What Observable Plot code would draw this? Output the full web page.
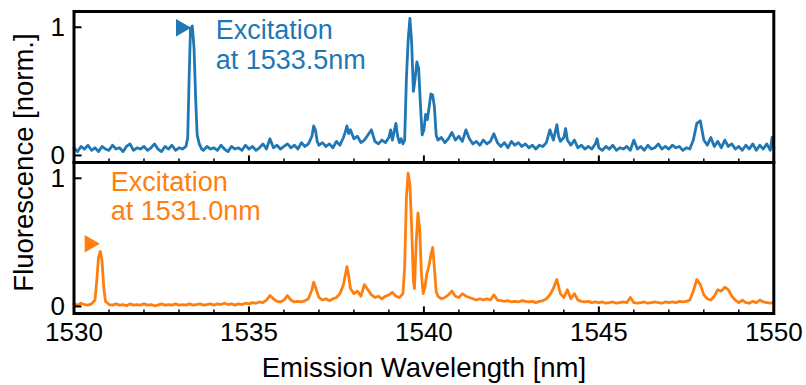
<!DOCTYPE html>
<html><head><meta charset="utf-8">
<script src="https://cdn.jsdelivr.net/npm/d3@7"></script>
<script src="https://cdn.jsdelivr.net/npm/@observablehq/plot@0.6"></script>
<style>
body{margin:0;background:#fff}
g[aria-label="x-axis label"] text, g[aria-label="y-axis label"] text {font-size: 27.5px}
</style>
</head><body><div id="chart"></div>
<script>
const panels = ["top", "bottom"];
const xTicks = [1530, 1535, 1540, 1545, 1550];
const xMinorTicks = [1531, 1532, 1533, 1534, 1536, 1537, 1538, 1539, 1541, 1542, 1543, 1544, 1546, 1547, 1548, 1549];
const yTicks = [0, 1];
const blueColor = "#1f77b4";
const orangeColor = "#ff7f0e";

// Excitation at 1533.5 nm (top, blue): [wavelength nm, normalized fluorescence]
const blueSpectrum = [
[1530.0,.06],[1530.1,.03],[1530.2,.07],[1530.3,.05],[1530.4,.08],[1530.5,.04],[1530.6,.06],[1530.7,.03],[1530.8,.07],[1530.9,.05],
[1531.0,.04],[1531.1,.08],[1531.2,.05],[1531.3,.06],[1531.4,.03],[1531.5,.07],[1531.6,.09],[1531.7,.04],[1531.8,.06],[1531.9,.05],
[1532.0,.07],[1532.1,.04],[1532.2,.06],[1532.3,.09],[1532.4,.05],[1532.5,.03],[1532.6,.07],[1532.7,.05],[1532.8,.08],[1532.9,.04],
[1533.0,.06],[1533.1,.05],[1533.2,.07],[1533.25,.14],[1533.29,.6],[1533.33,.99],[1533.38,1.01],[1533.43,.84],[1533.48,.42],[1533.52,.16],[1533.58,.09],[1533.65,.05],
[1533.7,.04],[1533.8,.07],[1533.9,.05],
[1534.0,.06],[1534.1,.04],[1534.2,.08],[1534.3,.05],[1534.4,.03],[1534.5,.07],[1534.6,.05],[1534.7,.06],[1534.8,.04],[1534.9,.08],
[1535.0,.05],[1535.1,.07],[1535.2,.04],[1535.3,.06],[1535.4,.09],[1535.5,.05],[1535.6,.13],[1535.7,.06],[1535.8,.08],[1535.9,.05],
[1536.0,.07],[1536.1,.09],[1536.2,.06],[1536.3,.08],[1536.4,.05],[1536.5,.1],[1536.6,.07],[1536.7,.09],[1536.8,.15],[1536.85,.23],[1536.9,.2],[1536.95,.11],
[1537.0,.08],[1537.1,.1],[1537.2,.07],[1537.3,.09],[1537.4,.06],[1537.5,.11],[1537.6,.08],[1537.7,.14],[1537.75,.18],[1537.8,.23],[1537.85,.17],[1537.9,.2],
[1538.0,.13],[1538.1,.15],[1538.2,.1],[1538.3,.12],[1538.4,.16],[1538.5,.2],[1538.6,.11],[1538.7,.09],[1538.8,.12],[1538.9,.1],
[1539.0,.14],[1539.05,.2],[1539.1,.12],[1539.2,.25],[1539.25,.15],[1539.3,.1],[1539.35,.13],[1539.4,.09],[1539.45,.12],[1539.5,.6],[1539.55,.9],[1539.6,1.07],[1539.65,.88],[1539.7,.5],[1539.75,.6],[1539.8,.73],[1539.85,.68],[1539.9,.4],[1539.95,.16],
[1540.0,.2],[1540.05,.32],[1540.1,.28],[1540.15,.38],[1540.2,.48],[1540.25,.47],[1540.3,.38],[1540.35,.16],[1540.4,.12],[1540.5,.14],[1540.6,.1],[1540.7,.13],[1540.8,.18],[1540.9,.12],
[1541.0,.15],[1541.1,.11],[1541.2,.2],[1541.3,.13],[1541.4,.09],[1541.5,.11],[1541.6,.08],[1541.7,.12],[1541.8,.09],[1541.9,.11],
[1542.0,.17],[1542.1,.1],[1542.2,.07],[1542.3,.1],[1542.4,.06],[1542.5,.11],[1542.6,.08],[1542.7,.1],[1542.8,.07],[1542.9,.09],
[1543.0,.06],[1543.1,.08],[1543.2,.05],[1543.3,.08],[1543.4,.07],[1543.5,.1],[1543.6,.2],[1543.7,.12],[1543.8,.24],[1543.85,.15],[1543.9,.11],
[1544.0,.14],[1544.05,.21],[1544.1,.12],[1544.2,.08],[1544.3,.12],[1544.4,.06],[1544.5,.08],[1544.6,.05],[1544.7,.07],[1544.8,.05],[1544.9,.09],[1544.95,.13],
[1545.0,.06],[1545.1,.04],[1545.2,.07],[1545.3,.05],[1545.4,.08],[1545.5,.04],[1545.6,.06],[1545.7,.05],[1545.8,.07],[1545.9,.04],
[1546.0,.12],[1546.1,.05],[1546.2,.07],[1546.3,.04],[1546.4,.08],[1546.5,.05],[1546.6,.06],[1546.7,.09],[1546.8,.05],[1546.9,.07],
[1547.0,.05],[1547.1,.08],[1547.2,.06],[1547.3,.07],[1547.4,.04],[1547.5,.06],[1547.6,.05],[1547.7,.12],[1547.8,.25],[1547.9,.27],
[1548.0,.12],[1548.1,.08],[1548.2,.14],[1548.3,.07],[1548.4,.11],[1548.5,.06],[1548.6,.12],[1548.7,.07],[1548.8,.09],[1548.9,.05],
[1549.0,.07],[1549.1,.04],[1549.2,.08],[1549.3,.05],[1549.4,.09],[1549.5,.04],[1549.6,.08],[1549.7,.05],[1549.8,.09],[1549.9,.04],[1549.95,.14],[1550.0,.06]
];

// Excitation at 1531.0 nm (bottom, orange)
const orangeSpectrum = [
[1530.0,.02],[1530.1,.01],[1530.2,.025],[1530.3,.015],[1530.4,.01],[1530.5,.02],[1530.6,.05],[1530.65,.2],[1530.7,.38],[1530.75,.43],[1530.8,.36],[1530.85,.15],[1530.9,.04],
[1531.0,.015],[1531.1,.01],[1531.2,.02],[1531.3,.01],[1531.4,.015],[1531.5,.005],[1531.6,.02],[1531.7,.01],[1531.8,.015],[1531.9,.01],
[1532.0,.02],[1532.1,.01],[1532.2,.015],[1532.3,.005],[1532.4,.01],[1532.5,.02],[1532.6,.01],[1532.7,.015],[1532.8,.01],[1532.9,.02],
[1533.0,.01],[1533.1,.015],[1533.2,.01],[1533.3,.02],[1533.4,.01],[1533.5,.015],[1533.6,.02],[1533.7,.01],[1533.8,.015],[1533.9,.02],
[1534.0,.01],[1534.1,.02],[1534.2,.015],[1534.3,.025],[1534.4,.015],[1534.5,.02],[1534.6,.01],[1534.7,.02],[1534.8,.015],[1534.9,.025],
[1535.0,.02],[1535.1,.03],[1535.2,.025],[1535.3,.035],[1535.4,.03],[1535.5,.05],[1535.6,.085],[1535.7,.06],[1535.8,.04],[1535.9,.035],
[1536.0,.05],[1536.1,.085],[1536.2,.05],[1536.3,.035],[1536.4,.04],[1536.5,.035],[1536.6,.045],[1536.7,.06],[1536.8,.13],[1536.85,.19],[1536.9,.15],
[1537.0,.07],[1537.1,.05],[1537.2,.06],[1537.3,.045],[1537.4,.06],[1537.5,.07],[1537.6,.1],[1537.7,.17],[1537.8,.31],[1537.85,.24],[1537.9,.14],
[1538.0,.1],[1538.1,.12],[1538.2,.08],[1538.3,.17],[1538.4,.13],[1538.5,.09],[1538.6,.07],[1538.7,.08],[1538.8,.06],[1538.9,.08],
[1539.0,.09],[1539.1,.11],[1539.2,.08],[1539.3,.07],[1539.4,.1],[1539.45,.3],[1539.5,.85],[1539.55,1.04],[1539.6,.95],[1539.65,.62],[1539.7,.2],[1539.73,.14],[1539.78,.5],[1539.83,.73],[1539.88,.6],[1539.93,.25],[1539.98,.1],
[1540.03,.15],[1540.08,.25],[1540.13,.3],[1540.2,.4],[1540.25,.46],[1540.3,.3],[1540.35,.12],[1540.4,.08],[1540.5,.06],[1540.6,.07],[1540.7,.09],[1540.8,.12],[1540.9,.08],
[1541.0,.07],[1541.1,.1],[1541.2,.08],[1541.3,.07],[1541.4,.06],[1541.5,.05],[1541.6,.06],[1541.7,.05],[1541.8,.06],[1541.9,.05],
[1542.0,.09],[1542.1,.05],[1542.2,.045],[1542.3,.04],[1542.4,.045],[1542.5,.035],[1542.6,.04],[1542.7,.035],[1542.8,.045],[1542.9,.04],
[1543.0,.035],[1543.1,.04],[1543.2,.03],[1543.3,.04],[1543.4,.045],[1543.5,.06],[1543.6,.09],[1543.7,.14],[1543.8,.21],[1543.9,.1],
[1544.0,.07],[1544.1,.13],[1544.2,.06],[1544.3,.1],[1544.4,.05],[1544.5,.04],[1544.6,.035],[1544.7,.04],[1544.8,.03],[1544.9,.035],
[1545.0,.03],[1545.1,.035],[1545.2,.025],[1545.3,.03],[1545.4,.035],[1545.5,.025],[1545.6,.03],[1545.7,.035],[1545.8,.03],[1545.9,.07],
[1546.0,.03],[1546.1,.025],[1546.2,.03],[1546.3,.035],[1546.4,.025],[1546.5,.03],[1546.6,.035],[1546.7,.03],[1546.8,.025],[1546.9,.035],
[1547.0,.03],[1547.1,.035],[1547.2,.03],[1547.3,.04],[1547.4,.035],[1547.5,.04],[1547.6,.05],[1547.7,.12],[1547.8,.21],[1547.9,.17],
[1548.0,.09],[1548.1,.06],[1548.2,.05],[1548.3,.08],[1548.4,.13],[1548.5,.12],[1548.6,.15],[1548.7,.13],[1548.8,.08],[1548.9,.05],
[1549.0,.03],[1549.1,.05],[1549.2,.03],[1549.3,.025],[1549.4,.04],[1549.5,.03],[1549.6,.05],[1549.7,.035],[1549.8,.03],[1549.9,.025],[1550.0,.03]
];

const annotations = [
  {panel: "top", x: 1534.05, y: 1.072, text: "Excitation\nat 1533.5nm", color: blueColor},
  {panel: "bottom", x: 1531.05, y: 1.068, text: "Excitation\nat 1531.0nm", color: orangeColor}
];
const markers = [
  {panel: "top", x: 1533.06, y: 0.997, color: blueColor},
  {panel: "bottom", x: 1530.45, y: 0.489, color: orangeColor}
];

const W = 806, H = 385, mL = 73.5, mR = 32.7, mT = 10.5, mB = 71.7;
const panelH = (H - mT - mB) / 2;
const plotW = W - mL - mR;
const rows = (spec, panel) => spec.map(([x, y]) => ({x, y, panel}));

const chart = Plot.plot({
  width: W, height: H,
  marginLeft: mL, marginRight: mR, marginTop: mT, marginBottom: mB,
  style: {fontFamily: "'Liberation Sans', Arial, sans-serif", fontSize: "26px", color: "black", background: "white"},
  x: {domain: [1530, 1550], ticks: xTicks, tickSize: 0, tickPadding: 9, tickFormat: d => String(d),
      label: "Emission Wavelength [nm]", labelAnchor: "center", labelOffset: 63, labelArrow: "none"},
  y: {domain: [-0.055, 1.123], ticks: yTicks, tickSize: 0, tickPadding: 9, tickFormat: d => String(d),
      label: "Fluorescence [norm.]", labelAnchor: "center", labelOffset: 61, labelArrow: "none"},
  fy: {domain: panels, padding: 0, axis: null},
  marks: [
    Plot.line(rows(blueSpectrum, "top"), {x: "x", y: "y", fy: "panel", stroke: blueColor, strokeWidth: 2.8}),
    Plot.line(rows(orangeSpectrum, "bottom"), {x: "x", y: "y", fy: "panel", stroke: orangeColor, strokeWidth: 2.8}),
    Plot.ruleX(xMinorTicks, {insetTop: panelH - 4, stroke: "black", strokeWidth: 1.5}),
    Plot.ruleX(xTicks, {insetTop: panelH - 7, stroke: "black", strokeWidth: 2}),
    Plot.ruleY(yTicks, {insetRight: plotW - 8, stroke: "black", strokeWidth: 2}),
    Plot.dot(markers, {x: "x", y: "y", fy: "panel", symbol: "triangle", rotate: 90, r: 6.5, fill: "color", stroke: "none"}),
    Plot.text(annotations, {x: "x", y: "y", fy: "panel", text: "text", fill: "color", fontSize: 27,
      textAnchor: "start", lineAnchor: "top", lineHeight: 1.1}),
    Plot.frame({stroke: "black", strokeWidth: 3})
  ]
});
document.getElementById("chart").appendChild(chart);
</script>
</body></html>
